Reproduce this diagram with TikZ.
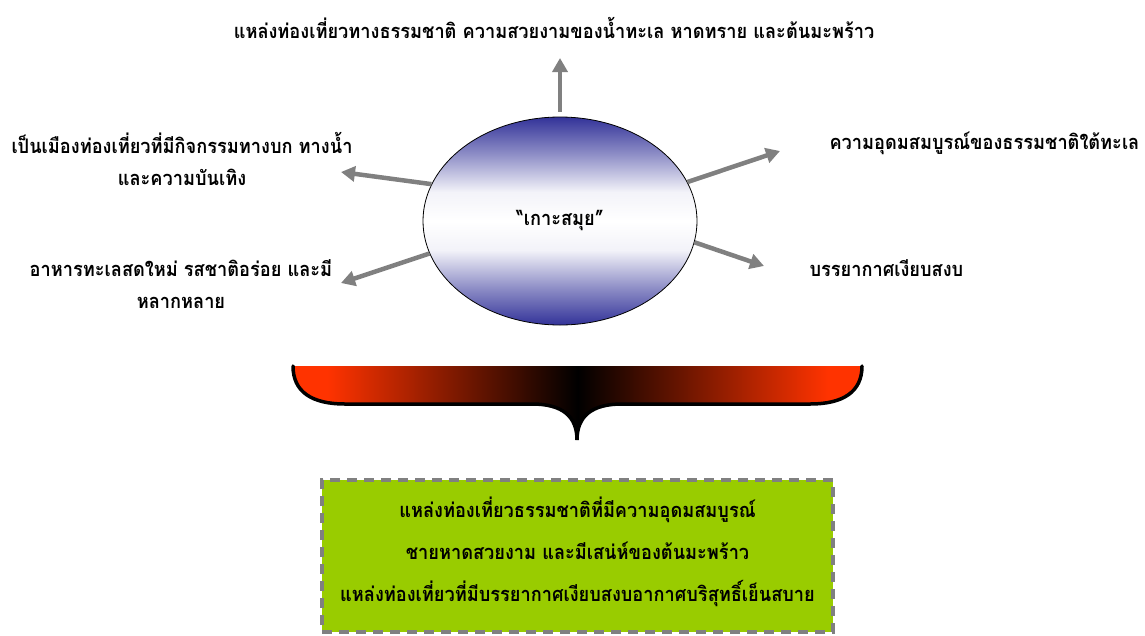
\documentclass[tikz,border=0pt]{standalone}
\usepackage{fontspec}
\newfontfamily\thaifont[Script=Thai, FakeStretch=0.91]{Loma}
\usetikzlibrary{positioning, arrows.meta, shapes.geometric}
\definecolor{samuiBlue}{HTML}{333399}
\definecolor{samuiRed}{HTML}{FF3300}
\definecolor{samuiGreen}{HTML}{99CC00}
\definecolor{samuiGray}{HTML}{808080}
\pgfdeclareverticalshading{eggfill}{100bp}{color(0bp)=(samuiBlue); color(25bp)=(samuiBlue); color(34bp)=(samuiBlue!55); color(43bp)=(samuiBlue!6); color(50bp)=(white); color(57bp)=(samuiBlue!6); color(66bp)=(samuiBlue!55); color(75bp)=(samuiBlue); color(100bp)=(samuiBlue)}
\pgfdeclarehorizontalshading{bracefill}{100bp}{color(0bp)=(samuiRed); color(28bp)=(samuiRed); color(50bp)=(black); color(72bp)=(samuiRed); color(100bp)=(samuiRed)}
\newcommand{\braceline}{(293,366) .. controls (293,392) and (312,404) .. (345,404) -- (532,404) .. controls (562,404) and (577,416) .. (577,440) .. controls (577,416) and (592,404) .. (622,404) -- (810,404) .. controls (843,404) and (862,392) .. (862,366)}

\begin{document}
\begin{tikzpicture}[
    x=1pt, y=-1pt,
    every node/.style={font=\thaifont\bfseries\fontsize{20}{32}\selectfont},
    spoke/.style={line width=4.5pt, draw=samuiGray, -{Triangle[length=14pt, width=15pt]}},
    bracerim/.style={line width=3.5pt, line cap=round, draw=black}
]
\useasboundingbox (0,0) rectangle (1145,635);

% Centre: the island
\node[ellipse, draw, line width=0.8pt, shade, shading=eggfill, minimum width=274, minimum height=208] (samui) at (560,221) {“เกาะสมุย”};

% Labels round the island
\node (tnature) at (554,28) {แหล่งท่องเที่ยวทางธรรมชาติ ความสวยงามของน้ำทะเล หาดทราย และต้นมะพร้าว};
\node[align=center] (tactivity) at (182,159) {เป็นเมืองท่องเที่ยวที่มีกิจกรรมทางบก ทางน้ำ\\และความบันเทิง};
\node[align=center] (tfood) at (181,284) {อาหารทะเลสดใหม่ รสชาติอร่อย และมี\\หลากหลาย};
\node[anchor=west] (tsea) at (826,143) {ความอุดมสมบูรณ์ของธรรมชาติใต้ทะเล};
\node[anchor=west] (tcalm) at (806,268) {บรรยากาศเงียบสงบ};

% Arrow tips
\coordinate (upTip) at (560,58);
\coordinate (actTip) at (341,172);
\coordinate (foodTip) at (341,283);
\coordinate (seaTip) at (780,151);
\coordinate (calmTip) at (764,266);

\draw[spoke, shorten <=5pt] (samui.north) -- (upTip);
\draw[spoke] (samui.164) -- (actTip);
\draw[spoke] (samui.194) -- (foodTip);
\draw[spoke] (samui.17) -- (seaTip);
\draw[spoke] (samui.351) -- (calmTip);

% Brace
\shade[shading=bracefill] \braceline -- cycle;
\draw[bracerim] \braceline;

% Summary box
\node[draw=samuiGray, line width=3.5pt, dash pattern=on 10pt off 7pt, fill=samuiGreen, minimum width=511, minimum height=152, align=center, text depth=14pt] (summary) at (577.5,556)
    {แหล่งท่องเที่ยวธรรมชาติที่มีความอุดมสมบูรณ์\\[10pt]ชายหาดสวยงาม และมีเสน่ห์ของต้นมะพร้าว\\[10pt]แหล่งท่องเที่ยวที่มีบรรยากาศเงียบสงบอากาศบริสุทธิ์เย็นสบาย};

\end{tikzpicture}
\end{document}
